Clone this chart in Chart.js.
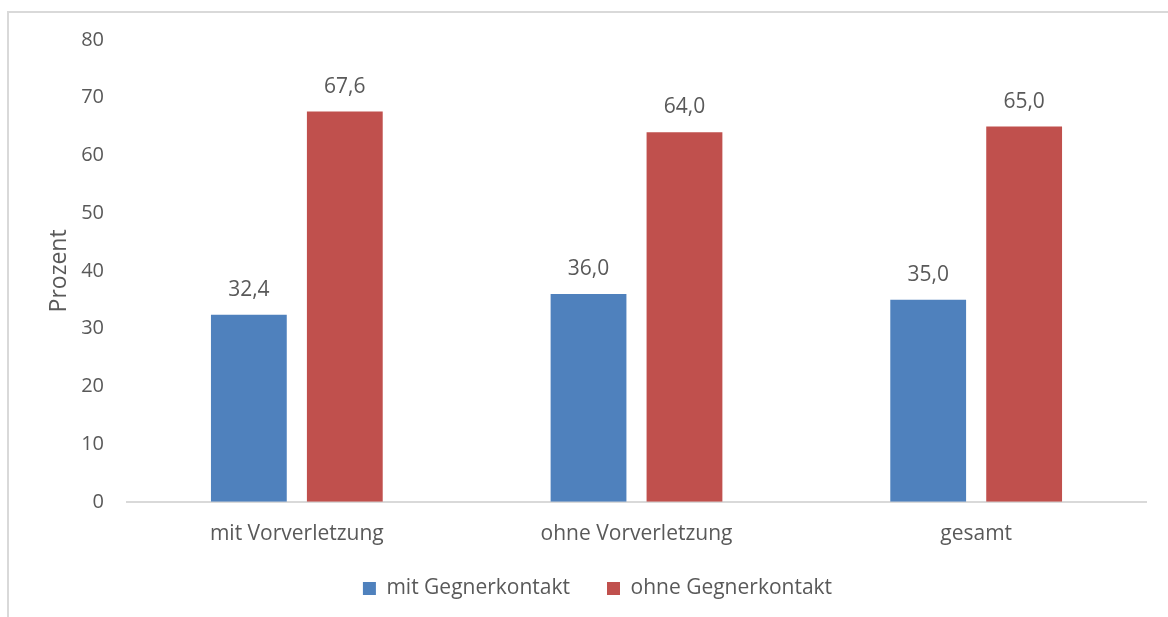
<!DOCTYPE html>
<html>
<head>
<meta charset="utf-8">
<script src="https://cdn.jsdelivr.net/npm/chart.js@4.4.0/dist/chart.umd.min.js"></script>
<style>
  html, body { margin: 0; padding: 0; background: #fff; }
  #wrap { position: relative; width: 1168px; height: 617px; overflow: hidden; }
  #frame { position: absolute; left: 7px; top: 11px; right: -2px; bottom: -2px; border-left: 2px solid #d9d9d9; border-top: 2px solid #d9d9d9; }
  canvas { position: absolute; left: 0; top: 0; }
</style>
</head>
<body>
<div id="wrap">
  <div id="frame"></div>
  <canvas id="myChart" width="1168" height="617"></canvas>
</div>
<script>
const categories = ['mit Vorverletzung', 'ohne Vorverletzung', 'gesamt'];
const mitGegnerkontakt = [32.4, 36.0, 35.0];
const ohneGegnerkontakt = [67.6, 64.0, 65.0];
const yTicks = [0, 10, 20, 30, 40, 50, 60, 70, 80];

const textColor = '#595959';
const fontFamily = '"Open Sans", "Noto Sans", sans-serif';

// value labels above each bar, German decimal comma
const valueLabels = {
    id: 'valueLabels',
    afterDatasetsDraw(chart) {
        const ctx = chart.ctx;
        ctx.save();
        ctx.font = '21px ' + fontFamily;
        ctx.fillStyle = textColor;
        ctx.textAlign = 'center';
        ctx.textBaseline = 'middle';
        chart.data.datasets.forEach((ds, i) => {
            chart.getDatasetMeta(i).data.forEach((bar, j) => {
                const txt = ds.data[j].toFixed(1).replace('.', ',');
                ctx.fillText(txt, bar.x, bar.y - 25);
            });
        });
        ctx.restore();
    }
};

// move the legend up and a bit to the right
const legendShift = {
    id: 'legendShift',
    afterLayout(chart) {
        const lg = chart.legend;
        lg.left += 20;
        lg.right += 20;
        lg.top -= 18;
        lg.bottom -= 18;
    }
};

function renderChart() {
    const ctx = document.getElementById('myChart').getContext('2d');
    new Chart(ctx, {
        type: 'bar',
        data: {
            labels: categories,
            datasets: [{
                label: 'mit Gegnerkontakt',
                data: mitGegnerkontakt,
                backgroundColor: '#4f81bd'
            }, {
                label: 'ohne Gegnerkontakt',
                data: ohneGegnerkontakt,
                backgroundColor: '#c0504d'
            }]
        },
        options: {
            responsive: false,
            animation: false,
            layout: { padding: { left: 9, right: 22, top: 40, bottom: -10 } },
            datasets: {
                bar: { categoryPercentage: 0.565, barPercentage: 0.79 }
            },
            scales: {
                x: {
                    grid: { display: false },
                    border: { display: true, color: '#d9d9d9', width: 2 },
                    ticks: { color: textColor, font: { family: fontFamily, size: 21 }, padding: 12 }
                },
                y: {
                    min: 0,
                    max: 80,
                    afterBuildTicks(scale) {
                        scale.ticks = yTicks.map(v => ({ value: v }));
                    },
                    afterFit(scale) { scale.width = 118; },
                    grid: { display: false },
                    border: { display: false },
                    ticks: { color: textColor, font: { family: fontFamily, size: 20 }, padding: 15 },
                    title: {
                        display: true,
                        text: 'Prozent',
                        color: textColor,
                        font: { family: fontFamily, size: 23 },
                        padding: { top: 37, bottom: 0 }
                    }
                }
            },
            plugins: {
                legend: {
                    position: 'bottom',
                    labels: {
                        color: textColor,
                        font: { family: fontFamily, size: 21 },
                        boxWidth: 13,
                        boxHeight: 13,
                        padding: 37
                    }
                },
                tooltip: { enabled: false }
            }
        },
        plugins: [valueLabels, legendShift]
    });
}

document.addEventListener('DOMContentLoaded', renderChart);
</script>
</body>
</html>
